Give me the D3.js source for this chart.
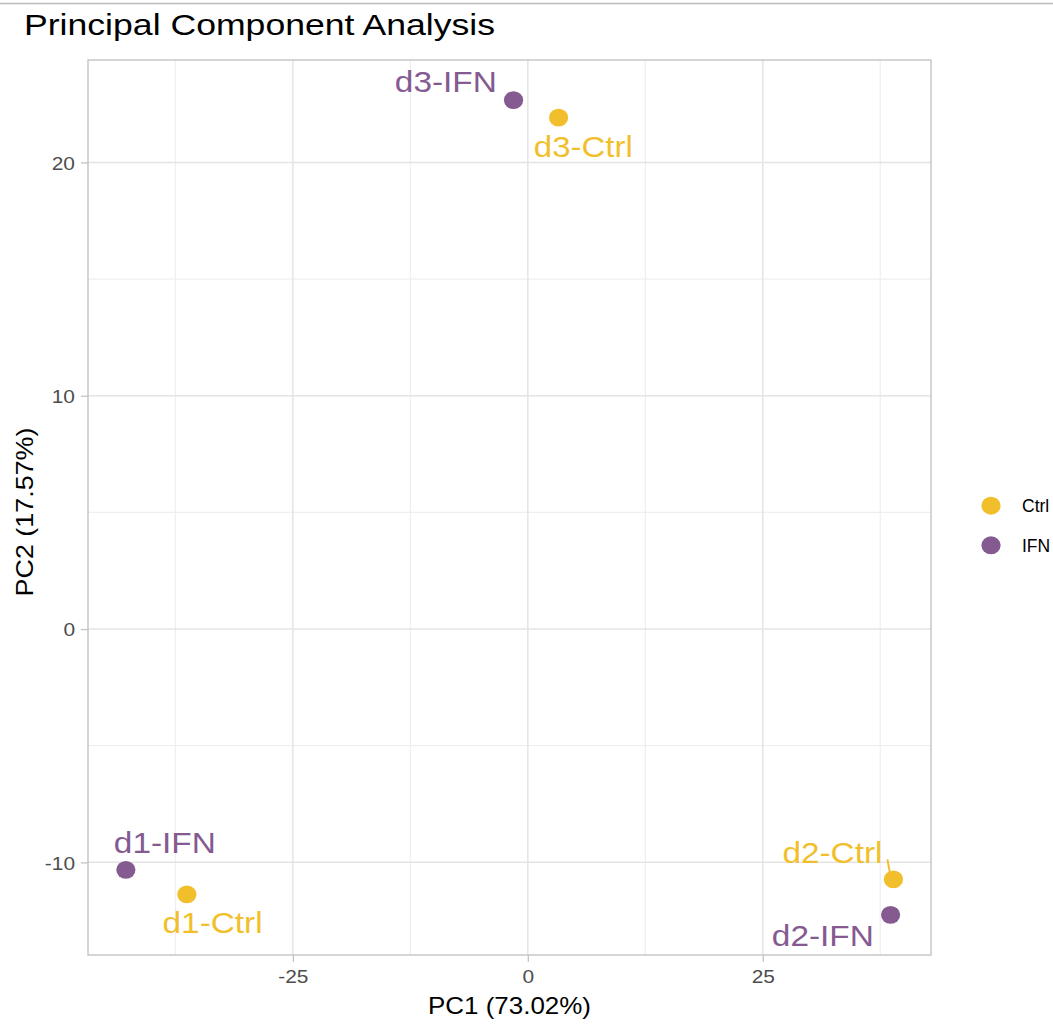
<!DOCTYPE html>
<html>
<head>
<meta charset="utf-8">
<script src="https://cdn.jsdelivr.net/npm/d3@7/dist/d3.min.js"></script>
<style>
  html, body { margin: 0; padding: 0; background: #fff; overflow: hidden; }
  text { font-family: "Liberation Sans", Arial, Helvetica, sans-serif; }
</style>
</head>
<body>
<svg id="chart" width="1053" height="1025"></svg>
<script>
// ---- data ----
const samples = ["d1-Ctrl", "d1-IFN", "d2-Ctrl", "d2-IFN", "d3-Ctrl", "d3-IFN"];
const groups  = ["Ctrl", "IFN", "Ctrl", "IFN", "Ctrl", "IFN"];
const pc1     = [-36.28, -42.77, 38.9, 38.6, 3.27, -1.52];
const pc2     = [-11.37, -10.32, -10.73, -12.25, 21.92, 22.67];
const xTicks  = [-25, 0, 25];
const yTicks  = [-10, 0, 10, 20];
const xMinor  = [-37.5, -12.5, 12.5, 37.5];
const yMinor  = [-5, 5, 15];
const legendGroups = ["Ctrl", "IFN"];
const titleText = "Principal Component Analysis";
const xTitle = "PC1 (73.02%)";
const yTitle = "PC2 (17.57%)";

// ---- layout / style (not data) ----
const colors = { Ctrl: "#F2BF2C", IFN: "#845A91" };
const panel = { left: 88, right: 931, top: 60, bottom: 955 };
// label placement (pixel offsets from point), like ggrepel output
const labelNudge = {
  "d1-Ctrl": { dx: -24.3, dy: 39, anchor: "start", w: 100 },
  "d1-IFN":  { dx: -12,   dy: -16.4, anchor: "start", w: 102 },
  "d2-Ctrl": { dx: -11,   dy: -16, anchor: "end", w: 100, seg: [[-6, -20], [-3.7, -7.6]] },
  "d2-IFN":  { dx: -16.7, dy: 31.3, anchor: "end", w: 102 },
  "d3-Ctrl": { dx: -24.7, dy: 39, anchor: "start", w: 99 },
  "d3-IFN":  { dx: -16.7, dy: -7.7, anchor: "end", w: 102 }
};

const svg = d3.select("#chart");
const x = d3.scaleLinear().domain([-46.8, 42.9]).range([panel.left, panel.right]);
const y = d3.scaleLinear().domain([-13.97, 24.39]).range([panel.bottom, panel.top]);

function fit(sel, w) {
  sel.attr("textLength", w).attr("lengthAdjust", "spacingAndGlyphs");
}

// top frame line of screenshot
svg.append("line").attr("x1", 0).attr("x2", 1053).attr("y1", 3.5).attr("y2", 3.5)
  .attr("stroke", "#BBBBBB").attr("stroke-width", 1.5);

// title
svg.append("text").attr("x", 24).attr("y", 34.5).attr("font-size", 30).attr("fill", "#000")
  .text(titleText).call(fit, 471);

// grid
const grid = svg.append("g");
grid.selectAll(".xm").data(xMinor).join("line")
  .attr("x1", d => x(d)).attr("x2", d => x(d)).attr("y1", panel.top).attr("y2", panel.bottom)
  .attr("stroke", "#EFEFEF").attr("stroke-width", 1.2);
grid.selectAll(".ym").data(yMinor).join("line")
  .attr("y1", d => y(d)).attr("y2", d => y(d)).attr("x1", panel.left).attr("x2", panel.right)
  .attr("stroke", "#EFEFEF").attr("stroke-width", 1.2);
grid.selectAll(".xM").data(xTicks).join("line")
  .attr("x1", d => x(d)).attr("x2", d => x(d)).attr("y1", panel.top).attr("y2", panel.bottom)
  .attr("stroke", "#E4E4E4").attr("stroke-width", 1.5);
grid.selectAll(".yM").data(yTicks).join("line")
  .attr("y1", d => y(d)).attr("y2", d => y(d)).attr("x1", panel.left).attr("x2", panel.right)
  .attr("stroke", "#E4E4E4").attr("stroke-width", 1.5);

// axes
const fmt = d => String(d);
const xAxis = svg.append("g").attr("transform", `translate(0,${panel.bottom})`)
  .call(d3.axisBottom(x).tickValues(xTicks).tickSize(7).tickPadding(5).tickFormat(fmt));
const yAxis = svg.append("g").attr("transform", `translate(${panel.left},0)`)
  .call(d3.axisLeft(y).tickValues(yTicks).tickSize(7).tickPadding(6).tickFormat(fmt));
[xAxis, yAxis].forEach(a => {
  a.select(".domain").remove();
  a.selectAll(".tick line").attr("stroke", "#C4C4C4").attr("stroke-width", 1.3);
  a.selectAll(".tick text").attr("fill", "#4D4D4D").attr("font-size", 19)
    .attr("font-family", "'Liberation Sans', Arial, sans-serif")
    .each(function() { const t = d3.select(this); t.attr("textLength", this.getComputedTextLength() * 1.1).attr("lengthAdjust", "spacingAndGlyphs"); });
});
xAxis.selectAll(".tick text").attr("dy", "0.85em");
yAxis.selectAll(".tick text").attr("dy", "0.36em");

// panel border
svg.append("rect").attr("x", panel.left).attr("y", panel.top)
  .attr("width", panel.right - panel.left).attr("height", panel.bottom - panel.top)
  .attr("fill", "none").attr("stroke", "#C4C4C4").attr("stroke-width", 1.4);

// axis titles
svg.append("text").attr("x", (panel.left + panel.right) / 2).attr("y", 1014)
  .attr("text-anchor", "middle").attr("font-size", 24).attr("fill", "#000")
  .text(xTitle).call(fit, 163);
svg.append("text").attr("transform", `translate(33,512) rotate(-90)`)
  .attr("text-anchor", "middle").attr("font-size", 24.5).attr("fill", "#000")
  .text(yTitle).call(fit, 169);

// points
const pts = samples.map((s, i) => ({ s, g: groups[i], px: pc1[i], py: pc2[i] }));
svg.append("g").selectAll("ellipse").data(pts).join("ellipse")
  .attr("cx", d => x(d.px)).attr("cy", d => y(d.py))
  .attr("rx", 9.6).attr("ry", 8.9)
  .attr("fill", d => colors[d.g]);

// label segments
svg.append("g").selectAll("line").data(pts.filter(d => labelNudge[d.s].seg)).join("line")
  .attr("x1", d => x(d.px) + labelNudge[d.s].seg[0][0])
  .attr("y1", d => y(d.py) + labelNudge[d.s].seg[0][1])
  .attr("x2", d => x(d.px) + labelNudge[d.s].seg[1][0])
  .attr("y2", d => y(d.py) + labelNudge[d.s].seg[1][1])
  .attr("stroke", d => colors[d.g]).attr("stroke-width", 2);

// labels
svg.append("g").selectAll("text").data(pts).join("text")
  .attr("x", d => x(d.px) + labelNudge[d.s].dx)
  .attr("y", d => y(d.py) + labelNudge[d.s].dy)
  .attr("text-anchor", d => labelNudge[d.s].anchor)
  .attr("font-size", 29.5)
  .attr("fill", d => colors[d.g])
  .text(d => d.s)
  .each(function(d) { d3.select(this).attr("textLength", labelNudge[d.s].w).attr("lengthAdjust", "spacingAndGlyphs"); });

// legend (kept fully inside the page)
const leg = svg.append("g");
legendGroups.forEach((g, i) => {
  const cy = 505.7 + i * 39.6;
  leg.append("ellipse").attr("cx", 991).attr("cy", cy).attr("rx", 9.6).attr("ry", 9).attr("fill", colors[g]);
  leg.append("text").attr("x", 1022).attr("y", cy + 6.5).attr("font-size", 17.5).attr("fill", "#000")
    .text(g);
});
</script>
</body>
</html>
